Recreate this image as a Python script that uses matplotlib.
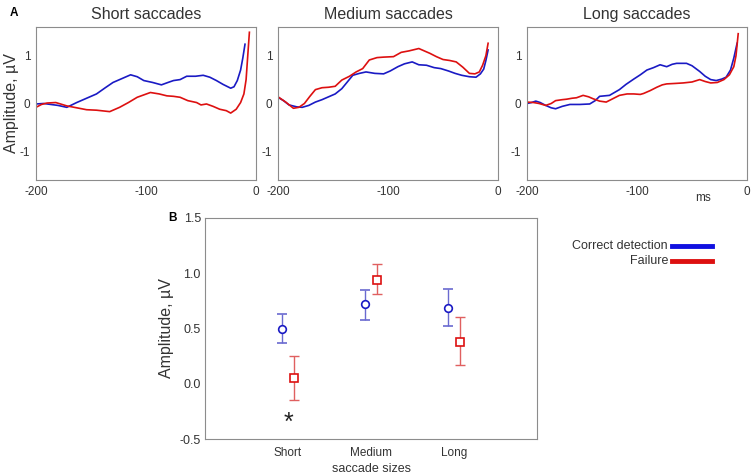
import matplotlib
matplotlib.use("Agg")
import matplotlib.pyplot as plt

plt.rcParams['font.family'] = ['Liberation Sans', 'DejaVu Sans']

# --- panel A: averaged traces (time in ms, amplitude in uV) ---
short_blue_t = [-200, -193, -180, -172, -163, -155, -145, -137, -130, -122, -114, -108, -102, -94, -86, -80, -75, -69, -63, -55, -48, -42, -36, -30, -23, -20, -17, -14, -12, -10]
short_blue_v = [-0.01, 0.0, -0.04, -0.08, 0.02, 0.1, 0.2, 0.33, 0.44, 0.52, 0.6, 0.56, 0.48, 0.44, 0.39, 0.44, 0.48, 0.5, 0.57, 0.57, 0.59, 0.55, 0.48, 0.4, 0.32, 0.35, 0.48, 0.7, 0.95, 1.24]
short_red_t = [-200, -195, -190, -182, -172, -163, -154, -145, -133, -124, -116, -108, -102, -96, -88, -81, -75, -69, -62, -54, -50, -45, -39, -33, -27, -23, -18, -14, -11, -9, -7.5, -6]
short_red_v = [-0.08, -0.02, 0.01, 0.02, -0.05, -0.09, -0.13, -0.14, -0.17, -0.08, 0.02, 0.13, 0.18, 0.23, 0.2, 0.16, 0.15, 0.13, 0.06, 0.02, -0.03, -0.01, -0.06, -0.12, -0.15, -0.2, -0.12, 0.02, 0.2, 0.5, 1.0, 1.49]

med_blue_t = [-200, -195, -190, -183, -178, -172, -166, -160, -154, -148, -142, -137, -132, -126, -120, -112, -104, -98, -91, -85, -78, -72, -65, -58, -52, -45, -39, -33, -26, -20, -16, -13, -11, -9]
med_blue_v = [0.13, 0.06, -0.03, -0.07, -0.08, -0.04, 0.03, 0.08, 0.14, 0.2, 0.31, 0.45, 0.59, 0.63, 0.66, 0.63, 0.62, 0.68, 0.77, 0.83, 0.87, 0.81, 0.8, 0.75, 0.73, 0.68, 0.63, 0.59, 0.56, 0.55, 0.62, 0.72, 0.9, 1.12]
med_red_t = [-200, -193, -186, -181, -176, -171, -166, -160, -154, -148, -142, -135, -129, -123, -117, -110, -104, -95, -88, -81, -72, -67, -62, -56, -50, -44, -38, -32, -26, -21, -17, -14, -11, -9]
med_red_v = [0.14, 0.03, -0.1, -0.08, 0.0, 0.15, 0.29, 0.33, 0.34, 0.36, 0.49, 0.57, 0.66, 0.73, 0.91, 0.96, 0.97, 0.98, 1.07, 1.1, 1.15, 1.1, 1.05, 0.98, 0.92, 0.9, 0.87, 0.76, 0.63, 0.62, 0.66, 0.8, 1.0, 1.26]

long_blue_t = [-200, -196, -192, -188, -183, -178, -174, -168, -161, -152, -143, -138, -134, -125, -116, -110, -103, -97, -91, -85, -79, -73, -68, -64, -55, -50, -43, -38, -33, -28, -23, -19, -15, -12, -9]
long_blue_v = [0.0, 0.02, 0.05, 0.02, -0.04, -0.09, -0.11, -0.06, -0.02, -0.02, -0.01, 0.06, 0.15, 0.17, 0.29, 0.4, 0.51, 0.6, 0.7, 0.75, 0.81, 0.77, 0.82, 0.84, 0.84, 0.79, 0.67, 0.57, 0.5, 0.48, 0.51, 0.55, 0.7, 0.95, 1.26]
long_red_t = [-200, -194, -189, -183, -178, -174, -168, -164, -159, -155, -149, -144, -140, -134, -128, -122, -116, -109, -103, -97, -94, -88, -82, -77, -73, -65, -58, -50, -43, -38, -33, -27, -21, -16, -12, -10, -8]
long_red_v = [0.03, 0.02, 0.0, -0.04, 0.0, 0.06, 0.08, 0.09, 0.11, 0.12, 0.17, 0.14, 0.1, 0.05, 0.03, 0.1, 0.17, 0.2, 0.2, 0.19, 0.21, 0.27, 0.34, 0.39, 0.41, 0.42, 0.43, 0.45, 0.5, 0.46, 0.43, 0.44, 0.5, 0.6, 0.77, 1.0, 1.46]

panel_titles = ['Short saccades', 'Medium saccades', 'Long saccades']

# --- panel B: mean amplitude with error bars ---
sizes = ['Short', 'Medium', 'Long']
correct_mean = [0.50, 0.72, 0.69]
correct_lo = [0.37, 0.58, 0.52]
correct_hi = [0.63, 0.85, 0.86]
failure_mean = [0.05, 0.94, 0.38]
failure_lo = [-0.15, 0.81, 0.17]
failure_hi = [0.25, 1.08, 0.60]

blue = '#1a1ac4'
red = '#dd1010'
text_c = '#333333'
spine_c = '#8c8c8c'

fig = plt.figure(figsize=(7.53, 4.76), dpi=100)

traces = [(short_blue_t, short_blue_v, short_red_t, short_red_v),
          (med_blue_t, med_blue_v, med_red_t, med_red_v),
          (long_blue_t, long_blue_v, long_red_t, long_red_v)]
lefts = [36, 278, 527]
for i, (bt, bv, rt, rv) in enumerate(traces):
    ax = fig.add_axes([lefts[i] / 753, 1 - 180 / 476, 220 / 753, 153 / 476])
    ax.plot(bt, bv, color=blue, lw=1.2)
    ax.plot(rt, rv, color=red, lw=1.2)
    ax.set_xlim(-200, 0)
    ax.set_ylim(-1.6, 1.6)
    ax.set_xticks([-200, -100, 0])
    ax.set_xticklabels(['-200', '-100', '0'])
    ax.set_yticks([-1, 0, 1])
    ax.set_yticklabels(['-1', '0', '1'])
    ax.tick_params(length=0, labelsize=8.5, colors=text_c, pad=4)
    for s in ax.spines.values():
        s.set_color(spine_c)
        s.set_linewidth(0.8)
    ax.set_title(panel_titles[i], fontsize=11.5, color=text_c, pad=6)
    if i == 0:
        ax.set_ylabel('Amplitude, µV', fontsize=11.5, color=text_c, labelpad=1)
    if i == 2:
        ax.text(0.8, -0.12, 'ms', transform=ax.transAxes, fontsize=8.5, color=text_c,
                ha='center', va='center')

fig.text(10 / 753, 1 - 13 / 476, 'A', fontsize=8.5, fontweight='bold', ha='left', va='center')
fig.text(168 / 753, 1 - 218 / 476, 'B', fontsize=8.5, fontweight='bold', ha='left', va='center')

axb = fig.add_axes([205 / 753, 1 - 439 / 476, 332 / 753, 221 / 476])
xpos = [1, 2, 3]
off = 0.07
xb = [x - off for x in xpos]
xr = [x + off for x in xpos]
berr = [[m - l for m, l in zip(correct_mean, correct_lo)], [h - m for m, h in zip(correct_mean, correct_hi)]]
rerr = [[m - l for m, l in zip(failure_mean, failure_lo)], [h - m for m, h in zip(failure_mean, failure_hi)]]
axb.errorbar(xb, correct_mean, yerr=berr, fmt='none', ecolor='#6a6ad0', elinewidth=1.0, capsize=3.5, capthick=1.2)
axb.errorbar(xr, failure_mean, yerr=rerr, fmt='none', ecolor='#e06060', elinewidth=1.0, capsize=3.5, capthick=1.0)
axb.plot(xb, correct_mean, 'o', ms=5.5, mfc='white', mec=blue, mew=1.2, ls='none')
axb.plot(xr, failure_mean, 's', ms=5.5, mfc='white', mec=red, mew=1.2, ls='none')
axb.text(1.0, -0.35, '*', fontsize=18, ha='center', va='center', color='#222222')
axb.set_xlim(0, 4)
axb.set_ylim(-0.5, 1.5)
axb.set_xticks(xpos)
axb.set_xticklabels(sizes)
axb.set_yticks([-0.5, 0.0, 0.5, 1.0, 1.5])
axb.set_yticklabels(['-0.5', '0.0', '0.5', '1.0', '1.5'])
axb.tick_params(axis='x', length=0, labelsize=8.5, colors=text_c, pad=6)
axb.tick_params(axis='y', length=0, labelsize=9, colors=text_c, pad=3)
for s in axb.spines.values():
    s.set_color(spine_c)
    s.set_linewidth(0.8)
axb.set_xlabel('saccade sizes', fontsize=9, color=text_c, labelpad=3)
axb.set_ylabel('Amplitude, µV', fontsize=11.5, color=text_c, labelpad=4)

# legend drawn as figure-level lines and text
leg_labels = ['Correct detection', 'Failure']
leg_colors = ['#1010e0', red]
leg_y = [1 - 246 / 476, 1 - 261 / 476]
for lab, col, y in zip(leg_labels, leg_colors, leg_y):
    fig.text(668 / 753, y, lab, fontsize=9, color=text_c, ha='right', va='center')
    fig.add_artist(plt.Line2D([672 / 753, 712 / 753], [y, y], color=col, lw=3.5,
                              transform=fig.transFigure))

fig.savefig('out.png', dpi=100)
